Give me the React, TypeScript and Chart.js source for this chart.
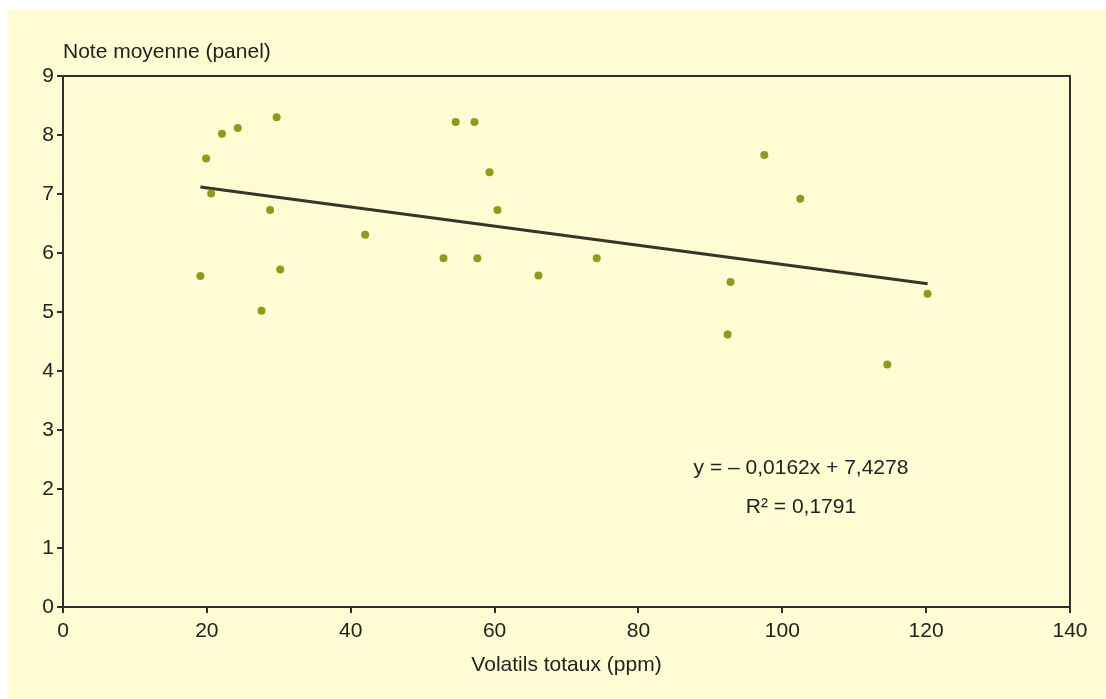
import React, { useEffect, useRef } from "react";
import { Chart, registerables } from "chart.js";

Chart.register(...registerables);

const volatiles: number[] = [19.1, 19.9, 20.6, 22.1, 24.3, 27.6, 28.8, 29.7, 30.2, 42.0, 52.9, 54.6, 57.2, 57.6, 59.3, 60.4, 66.1, 74.2, 92.4, 92.8, 97.5, 102.5, 114.6, 120.2];
const notes: number[] = [5.61, 7.6, 7.01, 8.02, 8.12, 5.02, 6.73, 8.3, 5.72, 6.31, 5.91, 8.22, 8.22, 5.91, 7.37, 6.73, 5.62, 5.91, 4.62, 5.51, 7.66, 6.92, 4.11, 5.31];

const slope = -0.0162;
const intercept = 7.4278;
const equationText = "y = \u2013 0,0162x + 7,4278";
const r2Text = "R\u00B2 = 0,1791";
const yTitle = "Note moyenne (panel)";
const xTitle = "Volatils totaux (ppm)";
const xTicks = [0, 20, 40, 60, 80, 100, 120, 140];
const yTicks = [0, 1, 2, 3, 4, 5, 6, 7, 8, 9];
const eqAnchor = { x: 102.6, y1: 2.36, y2: 1.69 };

const BG = "#FEFCD2";
const AXIS = "#2E2E2E";
const FONT = "'Liberation Sans', Arial, sans-serif";

export default function App() {
  const ref = useRef<HTMLCanvasElement | null>(null);
  useEffect(() => {
    if (!ref.current) return;
    const xmin = Math.min(...volatiles);
    const xmax = Math.max(...volatiles);
    const trend = [
      { x: xmin, y: slope * xmin + intercept },
      { x: xmax, y: slope * xmax + intercept },
    ];
    const textPlugin = {
      id: "texts",
      afterDraw(chart: any) {
        const ctx = chart.ctx;
        const a = chart.chartArea;
        const xs = chart.scales.x;
        const ys = chart.scales.y;
        ctx.save();
        ctx.strokeStyle = AXIS;
        ctx.lineWidth = 2;
        ctx.beginPath();
        ctx.moveTo(a.left, a.top);
        ctx.lineTo(a.right, a.top);
        ctx.lineTo(a.right, a.bottom);
        ctx.stroke();
        ctx.fillStyle = "#222";
        ctx.font = `21px ${FONT}`;
        ctx.textBaseline = "middle";
        ctx.textAlign = "left";
        ctx.fillText(yTitle, a.left, 43);
        ctx.textAlign = "center";
        ctx.fillText(xTitle, (a.left + a.right) / 2, 656);
        ctx.fillText(equationText, xs.getPixelForValue(eqAnchor.x), ys.getPixelForValue(eqAnchor.y1));
        ctx.fillText(r2Text, xs.getPixelForValue(eqAnchor.x), ys.getPixelForValue(eqAnchor.y2));
        ctx.restore();
      },
    };
    const chart = new Chart(ref.current, {
      type: "scatter",
      data: {
        datasets: [
          {
            label: "points",
            data: volatiles.map((v, i) => ({ x: v, y: notes[i] })),
            backgroundColor: "#8E9B1F",
            borderColor: "#8E9B1F",
            pointRadius: 4,
            borderWidth: 0,
          },
          {
            type: "line",
            label: "trend",
            data: trend,
            borderColor: "#35352A",
            borderWidth: 3,
            pointRadius: 0,
            fill: false,
          } as any,
        ],
      },
      plugins: [textPlugin],
      options: {
        responsive: false,
        animation: false,
        layout: { padding: { top: 67, right: 36, left: 0, bottom: 0 } },
        plugins: { legend: { display: false }, tooltip: { enabled: false } },
        scales: {
          x: {
            type: "linear",
            min: 0,
            max: 140,
            afterBuildTicks: (s: any) => { s.ticks = xTicks.map((v) => ({ value: v })); },
            afterFit: (s: any) => { s.height = 92; },
            ticks: { color: "#222", font: { size: 21, family: FONT }, padding: 6, maxRotation: 0 },
            grid: { drawOnChartArea: false, drawTicks: true, tickLength: 6, color: AXIS, lineWidth: 2 },
            border: { display: true, color: AXIS, width: 2 },
          },
          y: {
            type: "linear",
            min: 0,
            max: 9,
            afterBuildTicks: (s: any) => { s.ticks = yTicks.map((v) => ({ value: v })); },
            afterFit: (s: any) => { s.width = 55; },
            ticks: { color: "#222", font: { size: 21, family: FONT }, padding: 3 },
            grid: { drawOnChartArea: false, drawTicks: true, tickLength: 6, color: AXIS, lineWidth: 2 },
            border: { display: true, color: AXIS, width: 2 },
          },
        },
      } as any,
    });
    return () => chart.destroy();
  }, []);
  return (
    <div style={{ position: "fixed", left: 8, top: 9, right: 0, bottom: 0, background: BG, overflow: "hidden" }}>
      <canvas ref={ref} width={1098} height={690} style={{ display: "block" }} />
    </div>
  );
}
